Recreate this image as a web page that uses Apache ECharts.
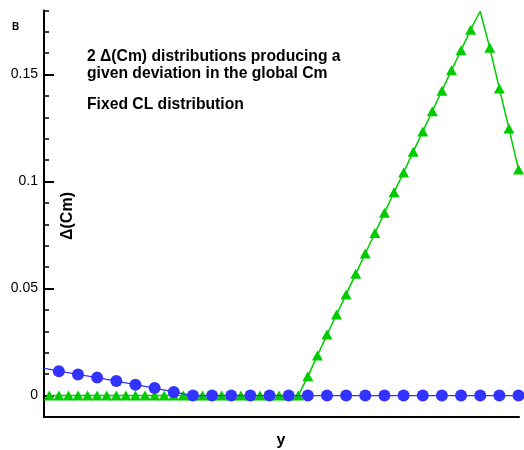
<!DOCTYPE html>
<html>
<head>
<meta charset="utf-8">
<script src="https://cdn.jsdelivr.net/npm/echarts@6/dist/echarts.min.js"></script>
<style>
  html, body { margin: 0; padding: 0; background: #fff; }
  #chart { width: 524px; height: 450px; }
</style>
</head>
<body>
<div id="chart"></div>
<script>
// Spanwise stations (panel index) and the two Δ(Cm) distributions
const stationsA = [0.45, 2, 4, 6, 8, 10, 12, 14, 16, 18, 20, 22, 24, 26, 28, 30,
  32, 34, 36, 38, 40, 42, 44, 46, 48, 50];
const deltaCmA = [0.0128, 0.0114, 0.0099, 0.0084, 0.0068, 0.0051, 0.0035, 0.0017, 0, 0, 0, 0, 0,
  0, 0, 0, 0, 0, 0, 0, 0, 0, 0, 0, 0, 0];

const stationsB = [1, 2, 3, 4, 5, 6, 7, 8, 9, 10, 11, 12, 13, 14, 15, 16, 17, 18, 19, 20,
  21, 22, 23, 24, 25, 26, 27, 28, 29, 30, 31, 32, 33, 34, 35, 36, 37, 38, 39, 40,
  41, 42, 43, 44, 45, 46, 47, 48, 49, 50];
const deltaCmB = [0, 0, 0, 0, 0, 0, 0, 0, 0, 0, 0, 0, 0, 0, 0, 0, 0, 0, 0, 0,
  0, 0, 0, 0, 0, 0, 0, 0.0090, 0.0187, 0.0285, 0.0379, 0.0472, 0.0569, 0.0664, 0.0760,
  0.0854, 0.0950, 0.1043, 0.1139, 0.1234, 0.1329, 0.1425, 0.1520, 0.1614, 0.1710,
  0.1796, 0.1625, 0.1435, 0.1248, 0.1056];

const yMajorTicks = [0, 0.05, 0.1, 0.15];

const chart = echarts.init(document.getElementById('chart'));

const seriesA = stationsA.map((x, i) => ({
  value: [x, deltaCmA[i]],
  symbol: i === 0 ? 'none' : 'circle'
}));
const peakIndex = deltaCmB.indexOf(Math.max(...deltaCmB));
const seriesB = stationsB.map((x, i) => ({
  value: [x, deltaCmB[i]],
  symbol: i === peakIndex ? 'none' : 'triangle'
}));

const FONT = '"Liberation Sans", Arial, Helvetica, sans-serif';

chart.setOption({
  animation: false,
  backgroundColor: '#ffffff',
  grid: { left: 44, right: 5, top: 10.4, bottom: 33 },
  xAxis: {
    type: 'value',
    min: 0.45,
    max: 50.05,
    axisLine: { show: true, onZero: false, lineStyle: { color: '#000', width: 2 } },
    axisTick: { show: false },
    axisLabel: { show: false },
    splitLine: { show: false }
  },
  yAxis: [
    {
      type: 'value',
      min: -0.01,
      max: 0.18,
      interval: 0.01,
      position: 'left',
      axisLine: { show: true, onZero: false, lineStyle: { color: '#000', width: 2 } },
      axisTick: { show: true, inside: true, length: 5, lineStyle: { color: '#000', width: 1.5 } },
      axisLabel: { show: false },
      splitLine: { show: false }
    },
    {
      type: 'value',
      min: -0.01,
      max: 0.18,
      position: 'left',
      axisLine: { show: false },
      axisTick: {
        show: true, inside: true, length: 10, customValues: yMajorTicks,
        lineStyle: { color: '#000', width: 2 }
      },
      axisLabel: {
        show: true, customValues: yMajorTicks, margin: 6,
        color: '#000', fontSize: 14, fontFamily: FONT,
        verticalAlign: 'middle', padding: [3, 0, 0, 0]
      },
      splitLine: { show: false }
    }
  ],
  series: [
    {
      type: 'line',
      data: seriesB,
      symbolSize: [11, 10],
      lineStyle: { color: '#00cc00', width: 1.5 },
      itemStyle: { color: '#00cc00' },
      z: 2
    },
    {
      type: 'line',
      data: seriesA,
      symbolSize: 12,
      lineStyle: { color: '#3333ff', width: 1.2 },
      itemStyle: { color: '#3333ff' },
      z: 3
    }
  ],
  graphic: [
    {
      type: 'text', left: 12, top: 22,
      style: { text: 'B', font: 'bold 10px ' + FONT, fill: '#000' }
    },
    {
      type: 'text', left: 87, top: 48,
      style: {
        text: '2 Δ(Cm) distributions producing a\ngiven deviation in the global Cm',
        font: 'bold 15.7px ' + FONT, lineHeight: 17, fill: '#000'
      }
    },
    {
      type: 'text', left: 87, top: 97,
      style: { text: 'Fixed CL distribution', font: 'bold 15.7px ' + FONT, fill: '#000' }
    },
    {
      type: 'text', x: 68, y: 216, rotation: Math.PI / 2,
      style: {
        text: 'Δ(Cm)', font: 'bold 16px ' + FONT, fill: '#000',
        align: 'center', verticalAlign: 'middle'
      }
    },
    {
      type: 'text', x: 281, y: 441,
      style: {
        text: 'y', font: 'bold 16px ' + FONT, fill: '#000',
        align: 'center', verticalAlign: 'middle'
      }
    }
  ]
});
</script>
</body>
</html>
